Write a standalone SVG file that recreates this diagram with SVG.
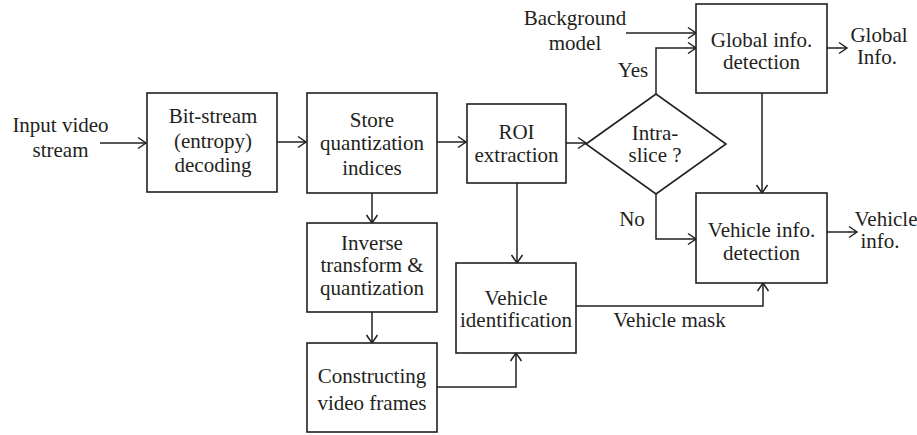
<svg xmlns="http://www.w3.org/2000/svg" width="917" height="435" viewBox="0 0 917 435" font-family="Liberation Serif, Times New Roman, serif">
<style>
.box{fill:#fff;stroke:#231f20;stroke-width:1.6}
.t{font-size:21px;fill:#231f20;text-anchor:middle}
.c{fill:none;stroke:#231f20;stroke-width:1.5}
</style>
<defs>
<marker id="a" markerUnits="userSpaceOnUse" markerWidth="12" markerHeight="14" refX="9" refY="6" orient="auto" overflow="visible">
<path d="M1,0.5 L9,6 L1,11.5" fill="none" stroke="#231f20" stroke-width="1.5"/>
</marker>
</defs>
<rect width="917" height="435" fill="#fff"/>
<g id="connectors">
<path class="c" d="M100,143 H146" marker-end="url(#a)"/>
<path class="c" d="M277,142 H306" marker-end="url(#a)"/>
<path class="c" d="M437,142 H466" marker-end="url(#a)"/>
<path class="c" d="M566,143 H586" marker-end="url(#a)"/>
<path class="c" d="M372,193 V223" marker-end="url(#a)"/>
<path class="c" d="M372,312 V343" marker-end="url(#a)"/>
<path class="c" d="M517,183 V263" marker-end="url(#a)"/>
<path class="c" d="M437,387 H516 V353" marker-end="url(#a)"/>
<path class="c" d="M576,306 H763 V283" marker-end="url(#a)"/>
<path class="c" d="M656,94 V48 H696" marker-end="url(#a)"/>
<path class="c" d="M626,33 H696" marker-end="url(#a)"/>
<path class="c" d="M656,194 V239 H696" marker-end="url(#a)"/>
<path class="c" d="M762,93 V193" marker-end="url(#a)"/>
<path class="c" d="M827,48 H847" marker-end="url(#a)"/>
<path class="c" d="M827,232 H857" marker-end="url(#a)"/>
</g>
<g id="labels">
<text class="t" x="60.5" y="132">Input video</text>
<text class="t" x="60.5" y="156.5">stream</text>
<text class="t" x="575" y="25">Background</text>
<text class="t" x="575" y="50">model</text>
<text class="t" x="633" y="77">Yes</text>
<text class="t" x="632" y="226">No</text>
<text class="t" x="879" y="42">Global</text>
<text class="t" x="877" y="64">Info.</text>
<text class="t" x="886" y="226">Vehicle</text>
<text class="t" x="880" y="248">info.</text>
<text class="t" x="669.5" y="327">Vehicle mask</text>
</g>
<g id="bitstream">
<rect class="box" x="147" y="93" width="130" height="99"/>
<text class="t" x="213" y="123">Bit-stream</text>
<text class="t" x="213" y="148">(entropy)</text>
<text class="t" x="213" y="172">decoding</text>
</g>
<g id="store">
<rect class="box" x="307" y="93" width="130" height="100"/>
<text class="t" x="372" y="126.5">Store</text>
<text class="t" x="372" y="150">quantization</text>
<text class="t" x="372" y="175">indices</text>
</g>
<g id="roi">
<rect class="box" x="467" y="104" width="99" height="79"/>
<text class="t" x="516.5" y="139">ROI</text>
<text class="t" x="516.5" y="162">extraction</text>
</g>
<g id="intra">
<polygon class="box" points="586,144 656,94 726,144 656,194"/>
<text class="t" x="655" y="140">Intra-</text>
<text class="t" x="655" y="162">slice ?</text>
</g>
<g id="global">
<rect class="box" x="696" y="4" width="131" height="89"/>
<text class="t" x="761.5" y="47">Global info.</text>
<text class="t" x="761.5" y="69">detection</text>
</g>
<g id="vehinfo">
<rect class="box" x="696" y="193" width="131" height="90"/>
<text class="t" x="761.5" y="237">Vehicle info.</text>
<text class="t" x="761.5" y="260">detection</text>
</g>
<g id="inverse">
<rect class="box" x="307" y="223" width="130" height="89"/>
<text class="t" x="372" y="250">Inverse</text>
<text class="t" x="372" y="272">transform &amp;</text>
<text class="t" x="372" y="295">quantization</text>
</g>
<g id="constructing">
<rect class="box" x="307" y="343" width="130" height="89"/>
<text class="t" x="372" y="383">Constructing</text>
<text class="t" x="372" y="410">video frames</text>
</g>
<g id="vehid">
<rect class="box" x="456" y="263" width="120" height="90"/>
<text class="t" x="516" y="305">Vehicle</text>
<text class="t" x="516" y="327">identification</text>
</g>
</svg>
